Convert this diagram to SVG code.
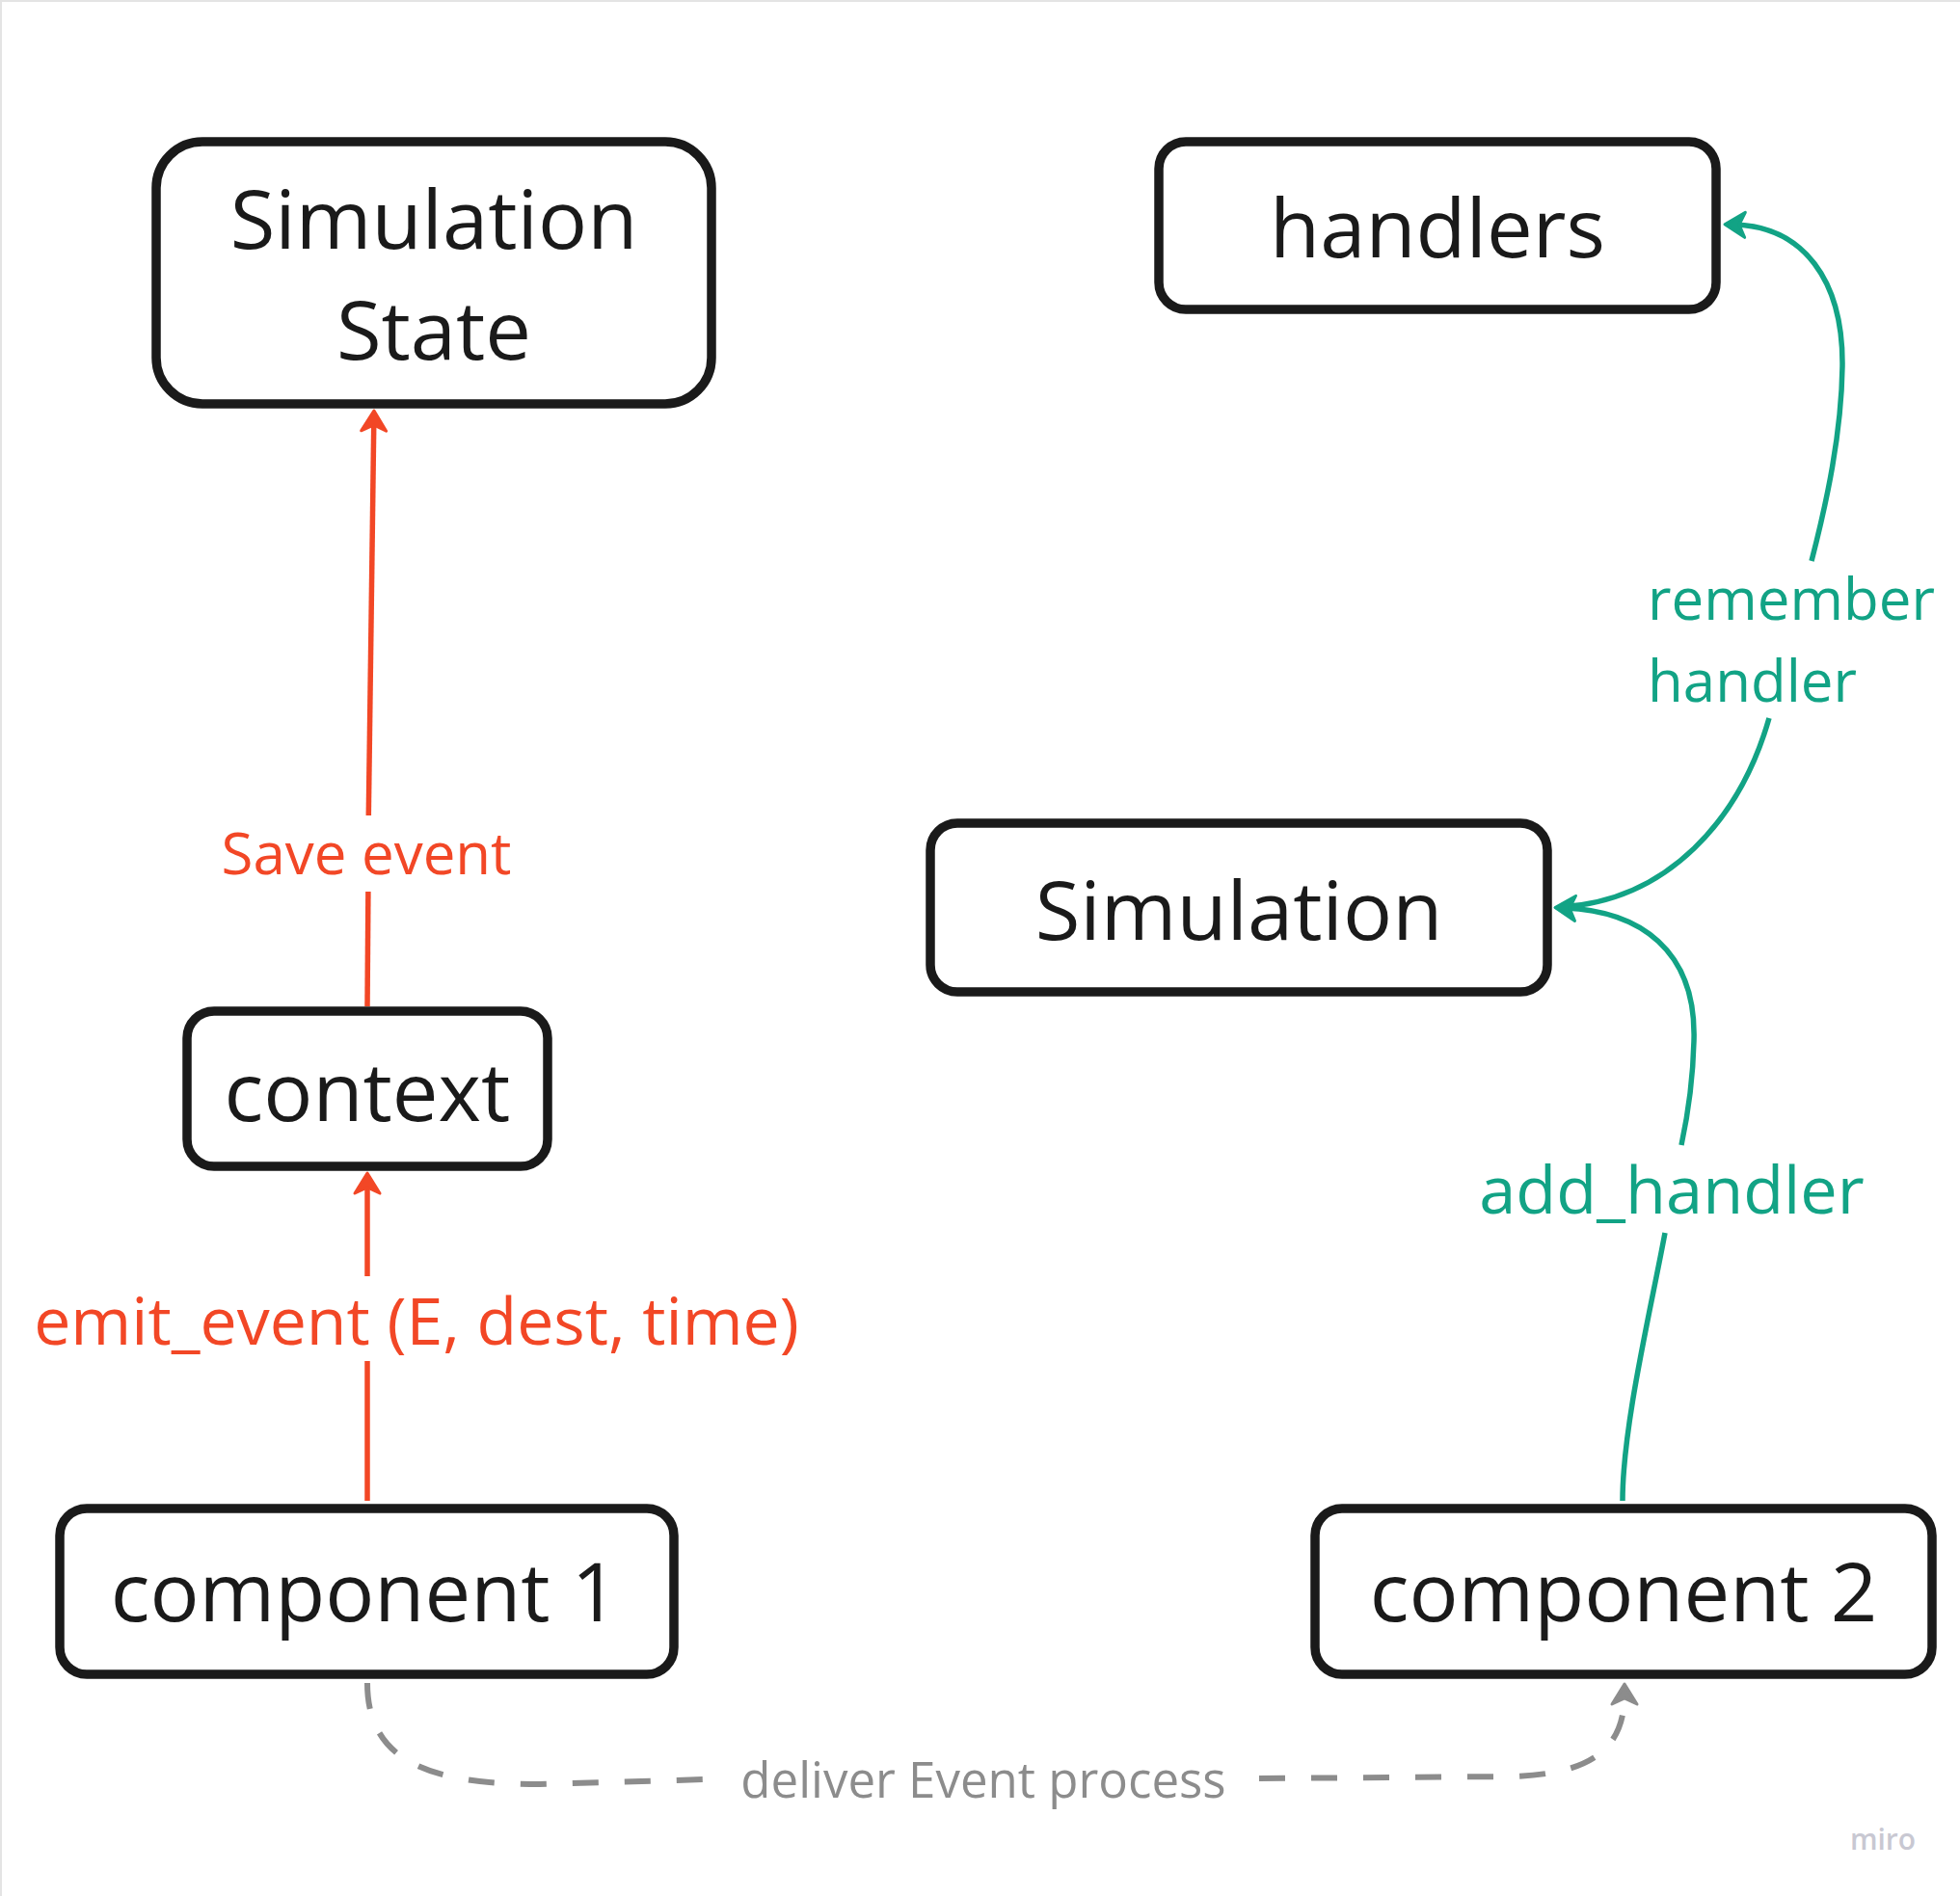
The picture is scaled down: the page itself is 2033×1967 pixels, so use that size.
<svg xmlns="http://www.w3.org/2000/svg" width="2033" height="1967" viewBox="0 0 2033 1967">
<style>
.box{fill:#ffffff;stroke:#1a1a1a;stroke-width:9.5}
.nt{font-family:"Open Sans","Noto Sans","DejaVu Sans",sans-serif;font-size:85px;fill:#1a1a1a;text-anchor:middle}
.lbl{font-family:"Open Sans","Noto Sans","DejaVu Sans",sans-serif}
.red{stroke:#f24726;stroke-width:5.5;fill:none}
.grn{stroke:#12a385;stroke-width:5.5;fill:none}
.gry{stroke:#8c8c8c;stroke-width:6;fill:none;stroke-dasharray:27 27}
.ah{stroke-width:3;stroke-linejoin:round}
</style>
<defs>
<marker id="arR" markerUnits="userSpaceOnUse" viewBox="-25 -25 50 50" markerWidth="50" markerHeight="50" refX="0" refY="0" orient="auto">
<path class="ah" d="M10,0 L-11,-13 L-5,0 L-11,13 Z" fill="#f24726" stroke="#f24726"/>
</marker>
<marker id="arG" markerUnits="userSpaceOnUse" viewBox="-25 -25 50 50" markerWidth="50" markerHeight="50" refX="0" refY="0" orient="auto">
<path class="ah" d="M10,0 L-11,-13 L-5,0 L-11,13 Z" fill="#12a385" stroke="#12a385"/>
</marker>
<marker id="arK" markerUnits="userSpaceOnUse" viewBox="-25 -25 50 50" markerWidth="50" markerHeight="50" refX="0" refY="0" orient="auto">
<path class="ah" d="M10,0 L-11,-13 L-5,0 L-11,13 Z" fill="#8c8c8c" stroke="#8c8c8c"/>
</marker>
</defs>
<rect x="0" y="0" width="2033" height="1967" fill="#ffffff"/>
<path d="M1,0 V1967 M0,1 H2033" stroke="#e4e4e4" stroke-width="2" fill="none"/>

<g id="connectors">
  <!-- component 1 -> context -->
  <path class="red" d="M381,1557 L381,1412"/>
  <path class="red" d="M381,1324 L381,1227" marker-end="url(#arR)"/>
  <text class="lbl" x="432" y="1395" font-size="68" fill="#f24726" text-anchor="middle">emit_event (E, dest, time)</text>
  <!-- context -> Simulation State -->
  <path class="red" d="M381,1044 L381.9,925"/>
  <path class="red" d="M382.3,846 L387.8,436" marker-end="url(#arR)"/>
  <text class="lbl" x="380" y="907" font-size="60" fill="#f24726" text-anchor="middle">Save event</text>
  <!-- Simulation -> handlers -->
  <path class="grn" d="M1879,582 C1895,520 1910,450 1911,380 C1912,290 1870,235 1799,233" marker-end="url(#arG)"/>
  <path class="grn" d="M1618,941 C1730,935 1805,850 1835,745"/>
  <text class="lbl" font-size="60" fill="#12a385"><tspan x="1709" y="643">remember</tspan><tspan x="1709" y="728">handler</tspan></text>
  <!-- component 2 -> Simulation -->
  <path class="grn" d="M1683,1557 C1683,1480 1712,1360 1727,1279"/>
  <path class="grn" d="M1744,1188 C1750,1160 1756,1120 1757,1080 C1760,985 1700,945 1623,942" marker-end="url(#arG)"/>
  <text class="lbl" x="1734" y="1259" font-size="68.5" fill="#12a385" text-anchor="middle">add_handler</text>
  <!-- component 1 -> component 2 (dashed) -->
  <path class="gry" d="M381,1746 C381,1830 450,1851 560,1851 L732,1846"/>
  <path class="gry" d="M1306,1845 L1570,1843 C1650,1840 1685,1815 1685,1757" marker-end="url(#arK)"/>
  <text class="lbl" x="1020" y="1865" font-size="51" fill="#8c8c8c" text-anchor="middle">deliver Event process</text>
</g>

<g id="node-simulation-state">
  <rect class="box" x="162" y="147" width="576" height="272" rx="48" ry="48"/>
  <text class="nt" x="450" y="258">Simulation</text>
  <text class="nt" x="450" y="373">State</text>
</g>
<g id="node-handlers">
  <rect class="box" x="1202" y="147" width="578" height="174" rx="28" ry="28"/>
  <text class="nt" x="1491" y="267">handlers</text>
</g>
<g id="node-simulation">
  <rect class="box" x="965" y="854" width="640" height="175" rx="28" ry="28"/>
  <text class="nt" x="1285" y="975">Simulation</text>
</g>
<g id="node-context">
  <rect class="box" x="194" y="1049" width="374" height="161" rx="28" ry="28"/>
  <text class="nt" x="381" y="1163">context</text>
</g>
<g id="node-component-1">
  <rect class="box" x="62" y="1565" width="637" height="172" rx="28" ry="28"/>
  <text class="nt" x="378" y="1682">component 1</text>
</g>
<g id="node-component-2">
  <rect class="box" x="1364" y="1565" width="640" height="172" rx="28" ry="28"/>
  <text class="nt" x="1684" y="1682">component 2</text>
</g>
<text x="1953" y="1919" font-family="'Open Sans','Noto Sans',sans-serif" font-size="30" font-weight="600" fill="#c8c8d2" text-anchor="middle">miro</text>
</svg>
